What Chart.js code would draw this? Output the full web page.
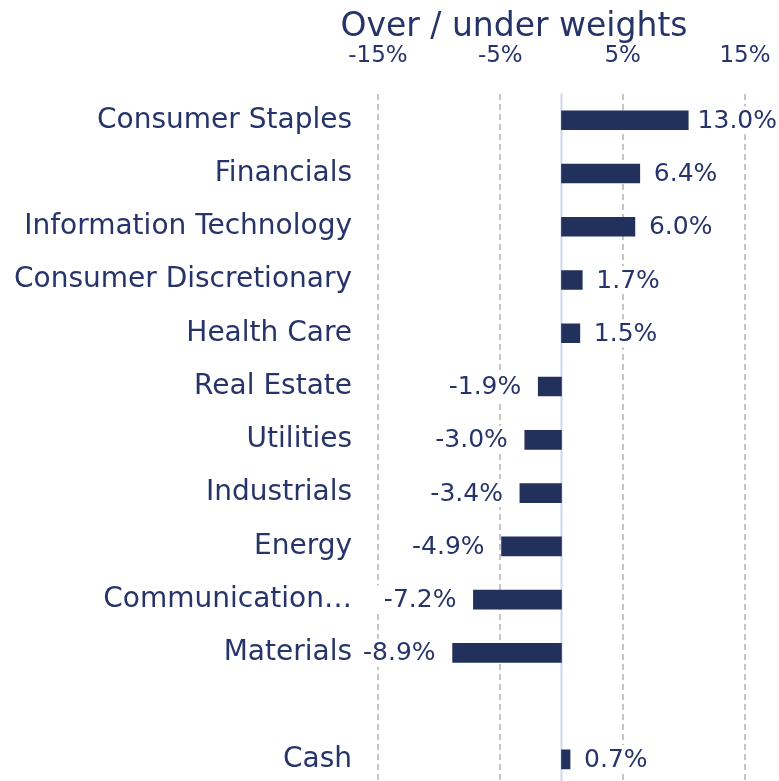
<!DOCTYPE html>
<html>
<head>
<meta charset="utf-8">
<script src="https://cdn.jsdelivr.net/npm/chart.js@4.4.1/dist/chart.umd.min.js"></script>
<style>
  html, body { margin: 0; padding: 0; background: #fff; overflow: hidden; }
  #wrap { width: 779px; height: 786px; position: relative; }
</style>
</head>
<body>
<div id="wrap"><canvas id="weightsChart"></canvas></div>
<script>
// chart data
const categories = ['Consumer Staples', 'Financials', 'Information Technology', 'Consumer Discretionary',
    'Health Care', 'Real Estate', 'Utilities', 'Industrials', 'Energy', 'Communication\u2026',
    'Materials', '', 'Cash'];
const weights = [13.0, 6.4, 6.0, 1.7, 1.5, -1.9, -3.0, -3.4, -4.9, -7.2, -8.9, null, 0.7];
const tickValues = [-15, -5, 5, 15];
const barCap = 11; // the longest bar is drawn shortened in the original

const _NAVY = '#22315c';
const _TEXT = '#27346a';
const _GRID = '#c6c6c6';
const _ZERO = '#cdd6f0';
const FONT = 'DejaVu Sans';

const barValues = weights.map(v => v === null ? null : Math.min(v, barCap));

// title, drawn above the axis labels
const titlePlugin = {
    id: 'titleText',
    afterDraw(chart) {
        const ctx = chart.ctx;
        ctx.save();
        ctx.font = '33px ' + FONT;
        ctx.fillStyle = _TEXT;
        ctx.textAlign = 'center';
        ctx.textBaseline = 'middle';
        ctx.fillText('Over / under weights', 514, 27);
        ctx.restore();
    }
};

// solid zero line
const zeroLine = {
    id: 'zeroLine',
    beforeDatasetsDraw(chart) {
        const x = chart.scales.x.getPixelForValue(0);
        const area = chart.chartArea;
        const ctx = chart.ctx;
        ctx.save();
        ctx.strokeStyle = _ZERO;
        ctx.lineWidth = 2;
        ctx.beginPath();
        ctx.moveTo(x, area.top);
        ctx.lineTo(x, area.bottom);
        ctx.stroke();
        ctx.restore();
    }
};

// value labels with white background
const valueLabels = {
    id: 'valueLabels',
    afterDatasetsDraw(chart) {
        const ctx = chart.ctx;
        const meta = chart.getDatasetMeta(0);
        ctx.save();
        ctx.font = '25px ' + FONT;
        ctx.textBaseline = 'middle';
        meta.data.forEach((bar, i) => {
            const v = weights[i];
            if (v === null) return;
            const text = v.toFixed(1) + '%';
            const w = ctx.measureText(text).width;
            let x;
            if (v >= 0) {
                x = Math.min(bar.x + 14, chart.width - w - 2);
            } else {
                x = bar.x - 17 - w;
            }
            ctx.fillStyle = '#ffffff';
            ctx.fillRect(x - 9, bar.y - 14, w + 18, 28);
            ctx.fillStyle = _TEXT;
            ctx.textAlign = 'left';
            ctx.fillText(text, x, bar.y + 1);
        });
        ctx.restore();
    }
};

let ctx = document.getElementById('weightsChart').getContext('2d');
let weightsChart = new Chart(ctx, {
    type: 'bar',
    data: {
        labels: categories,
        datasets: [{
            data: barValues,
            backgroundColor: _NAVY,
            barThickness: 19,
        }]
    },
    options: {
        indexAxis: 'y',
        responsive: true,
        maintainAspectRatio: false,
        animation: false,
        layout: {
            padding: { top: 18, right: 0, bottom: 0, left: 0 }
        },
        plugins: {
            legend: { display: false },
            tooltip: { enabled: false },
        },
        scales: {
            x: {
                position: 'top',
                min: -16.47,
                max: 17.78,
                afterBuildTicks: function (axis) {
                    axis.ticks = tickValues.map(v => ({ value: v }));
                },
                afterFit: function (axis) {
                    axis.paddingLeft = 0;
                    axis.paddingRight = 0;
                },
                ticks: {
                    callback: v => v + '%',
                    color: _TEXT,
                    font: { family: FONT, size: 23 },
                    padding: 24,
                    maxRotation: 0,
                    autoSkip: false,
                },
                grid: {
                    color: _GRID,
                    lineWidth: 2,
                    drawTicks: false,
                },
                border: {
                    display: false,
                    dash: [6, 4],
                }
            },
            y: {
                afterFit: function (axis) {
                    axis.width = 360;
                    axis.paddingTop = 0;
                    axis.paddingBottom = 0;
                },
                grid: { display: false, drawTicks: false },
                border: { display: false },
                ticks: {
                    color: _TEXT,
                    font: { family: FONT, size: 28 },
                    padding: 8,
                    autoSkip: false,
                }
            }
        }
    },
    plugins: [zeroLine, valueLabels, titlePlugin]
});
</script>
</body>
</html>
